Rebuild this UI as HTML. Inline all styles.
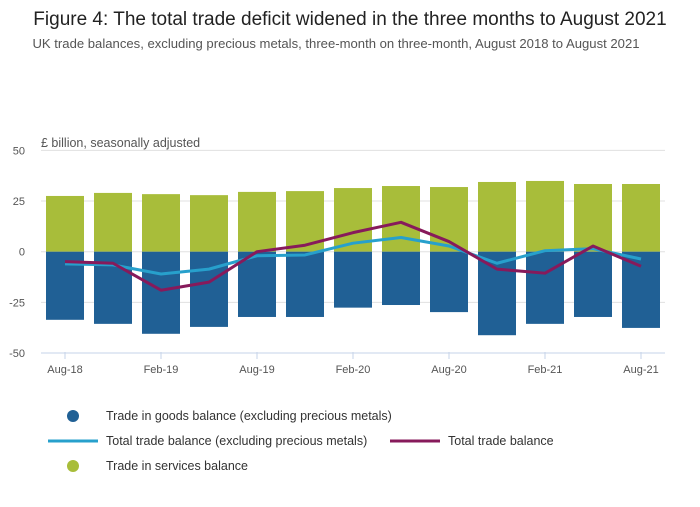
<!DOCTYPE html>
<html><head><meta charset="utf-8"><style>
body{margin:0;background:#fff;font-family:"Liberation Sans",sans-serif;}
svg text{font-family:"Liberation Sans",sans-serif;}
</style></head><body>
<svg width="700" height="502" viewBox="0 0 700 502" id="c">
<text x="350" y="25" text-anchor="middle" font-size="19" fill="#222">Figure 4: The total trade deficit widened in the three months to August 2021</text>
<text x="336" y="48" text-anchor="middle" font-size="13.1" fill="#555">UK trade balances, excluding precious metals, three-month on three-month, August 2018 to August 2021</text>
<text x="41" y="147" font-size="12.5" fill="#555">£ billion, seasonally adjusted</text>
<g id="grid"></g><g id="bars"></g><g id="lines"></g><g id="xaxis"></g>
<g>
<circle cx="73" cy="416" r="6" fill="#206095"/>
<text x="106" y="420" font-size="12.5" fill="#333">Trade in goods balance (excluding precious metals)</text>
<line x1="48" y1="441" x2="98" y2="441" stroke="#27a0cc" stroke-width="3"/>
<text x="106" y="445" font-size="12.5" fill="#333">Total trade balance (excluding precious metals)</text>
<line x1="390" y1="441" x2="440" y2="441" stroke="#871a5b" stroke-width="3"/>
<text x="448" y="445" font-size="12.5" fill="#333">Total trade balance</text>
<circle cx="73" cy="466" r="6" fill="#a8bd3a"/>
<text x="106" y="470" font-size="12.5" fill="#333">Trade in services balance</text>
</g>
</svg>
<script>
const categories=["Aug-18","Nov-18","Feb-19","May-19","Aug-19","Nov-19","Feb-20","May-20","Aug-20","Nov-20","Feb-21","May-21","Aug-21"];
const services=[27.5,29,28.4,27.9,29.5,29.9,31.4,32.4,31.9,34.4,34.9,33.4,33.4];
const goods=[-33.6,-35.6,-40.5,-37.1,-32.2,-32.2,-27.6,-26.3,-29.8,-41.2,-35.6,-32.2,-37.6];
const totalEx=[-6,-6.5,-11,-8.6,-2,-1.6,4.2,7,2.8,-5.7,0.5,1.5,-3.6];
const total=[-4.9,-5.7,-19,-15,0,3.2,9.4,14.5,5,-8.6,-10.6,2.8,-7.2];
const yTicks=[50,25,0,-25,-50];
const xTickLabels=["Aug-18","Feb-19","Aug-19","Feb-20","Aug-20","Feb-21","Aug-21"];
const NS="http://www.w3.org/2000/svg";
const L=41,R=665,band=(R-L)/categories.length;
const y=v=>251.7-v*2.027;
const x=i=>L+band*(i+0.5);
function mk(t,a,p){const e=document.createElementNS(NS,t);for(const k in a)e.setAttribute(k,a[k]);p.appendChild(e);return e;}
const g=document.getElementById('grid');
yTicks.forEach(v=>{
 const l=mk('line',{x1:L,x2:R,y1:y(v),y2:y(v),stroke:v===-50?'#c5d3e8':'#e0e0e0','stroke-width':1},g);
 
 
 const t=mk('text',{x:25,y:y(v)+4,'font-size':11,fill:'#555','text-anchor':'end'},g);t.textContent=v;
 
 
});
const b=document.getElementById('bars');const w=38;
categories.forEach((c,i)=>{
 const s=mk('rect',{x:x(i)-w/2,y:y(services[i]),width:w,height:y(0)-y(services[i]),fill:'#a8bd3a'},b);
 
 
 const r=mk('rect',{x:x(i)-w/2,y:y(0),width:w,height:y(goods[i])-y(0),fill:'#206095'},b);
 
 
});
const ln=document.getElementById('lines');
[[totalEx,'#27a0cc','line-total-ex-precious'],[total,'#871a5b','line-total']].forEach(([d,col,n])=>{
 const p=mk('polyline',{points:d.map((v,i)=>x(i)+','+y(v)).join(' '),fill:'none',stroke:col,'stroke-width':3,'stroke-linejoin':'round'},ln);
 
 
});
const xa=document.getElementById('xaxis');
categories.forEach((c,i)=>{
 const k=xTickLabels.indexOf(c);if(k<0)return;
 mk('line',{x1:x(i),x2:x(i),y1:352,y2:359,stroke:'#c5d3e8'},xa);
 const t=mk('text',{x:x(i),y:373,'font-size':11,fill:'#555','text-anchor':'middle'},xa);t.textContent=c;
 
 
});
</script>
</body></html>
